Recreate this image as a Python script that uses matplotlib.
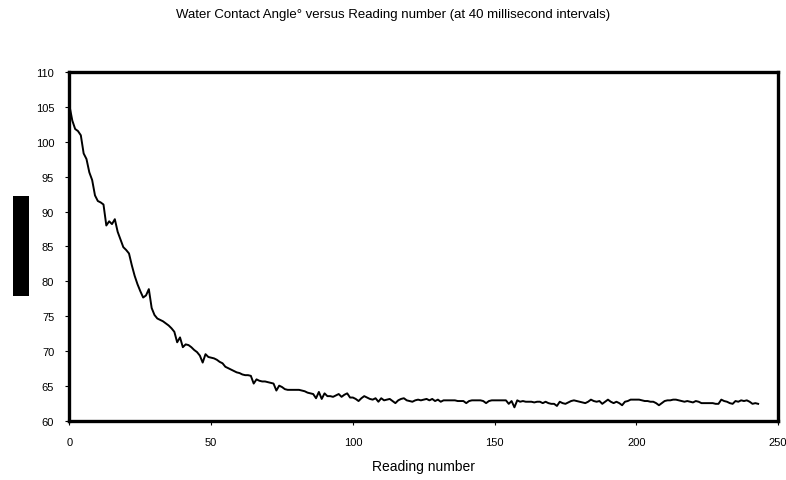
"""Water contact angle vs reading number"""
import matplotlib
matplotlib.use('Agg')
import matplotlib.pyplot as plt
import matplotlib.patches as mpatches

plt.rcParams['font.family'] = ['Liberation Sans', 'DejaVu Sans']

# contact angle readings (degrees), one per reading, 40 ms apart
angle_start = [
    105.1, 103.0, 101.8, 101.5, 100.9, 98.3, 97.5, 95.6, 94.5, 92.3,
    91.5, 91.3, 91.0, 88.0, 88.6, 88.2, 88.9, 87.1, 86.0, 84.9,
    84.5, 84.0, 82.3, 80.8, 79.6, 78.6, 77.7, 78.0, 78.9, 76.2,
    75.2, 74.7, 74.5, 74.3, 74.0, 73.7, 73.3, 72.8, 71.3, 72.0,
    70.6, 71.0, 70.9, 70.6, 70.2, 69.9, 69.4, 68.4, 69.6, 69.2,
    69.1, 69.0, 68.8, 68.5, 68.3, 67.8, 67.6, 67.4, 67.2, 67.0,
    66.9, 66.7, 66.6, 66.6, 66.5, 65.4, 66.0, 65.8, 65.7, 65.7,
    65.6, 65.5, 65.4, 64.4, 65.1, 64.9, 64.6, 64.5, 64.5, 64.5,
    64.5, 64.5, 64.4, 64.3, 64.1, 64.0, 63.9, 63.3, 64.2, 63.2,
    64.0, 63.6, 63.6, 63.5, 63.7, 63.9, 63.5, 63.8, 64.0, 63.4,
]
angle_plateau = [
    63.4, 63.2, 62.9, 63.3, 63.6, 63.4, 63.2, 63.1, 63.3, 62.8,
    63.3, 63.0, 63.1, 63.2, 62.9, 62.6, 63.0, 63.2, 63.3, 63.0,
    62.9, 62.8, 63.0, 63.1, 63.0, 63.1, 63.2, 63.0, 63.2, 62.9,
    63.1, 62.8, 63.0, 63.0, 63.0, 63.0, 63.0, 62.9, 62.9, 62.9,
    62.6, 62.9, 63.0, 63.0, 63.0, 63.0, 62.9, 62.6, 62.9, 63.0,
    63.0, 63.0, 63.0, 63.0, 63.0, 62.5, 62.9, 62.0, 63.0, 62.8,
    62.9, 62.8, 62.8, 62.8, 62.7, 62.8, 62.8, 62.6, 62.8, 62.6,
    62.5, 62.5, 62.2, 62.8, 62.6, 62.5, 62.7, 62.9, 63.0, 62.9,
    62.8, 62.7, 62.6, 62.8, 63.1, 62.9, 62.8, 62.9, 62.5, 62.8,
    63.1, 62.8, 62.6, 62.8, 62.6, 62.3, 62.8, 62.9, 63.1, 63.1,
    63.1, 63.1, 63.0, 62.9, 62.9, 62.8, 62.8, 62.6, 62.3, 62.6,
    62.9, 63.0, 63.0, 63.1, 63.1, 63.0, 62.9, 62.8, 62.9, 62.8,
    62.7, 62.9, 62.8, 62.6, 62.6, 62.6, 62.6, 62.6, 62.5, 62.5,
    63.1, 62.9, 62.8, 62.6, 62.5, 62.9, 62.8, 63.0, 62.9, 63.0,
    62.8, 62.5, 62.6, 62.5,
]
angles = angle_start + angle_plateau
readings = list(range(len(angles)))

x_ticks = [0, 50, 100, 150, 200, 250]
y_ticks = [60, 65, 70, 75, 80, 85, 90, 95, 100, 105, 110]

fig = plt.figure(figsize=(7.86, 4.81), dpi=100, facecolor='white')
ax = fig.add_axes([0.0884, 0.122, 0.9014, 0.727])

ax.plot(readings, angles, color='black', linewidth=1.4)

ax.set_xlim(0, 250)
ax.set_ylim(60, 110)
ax.set_xticks(x_ticks)
ax.set_yticks(y_ticks)
ax.tick_params(axis='both', direction='out', length=3, width=0.8,
               labelsize=8, color='black')
ax.tick_params(axis='x', pad=8)
ax.tick_params(axis='y', pad=8)

for side in ['left', 'right', 'top', 'bottom']:
    ax.spines[side].set_linewidth(2.4)
    ax.spines[side].set_color('black')

ax.set_xlabel('Reading number', fontsize=10, labelpad=9)

fig.text(0.5, 0.968, 'Water Contact Angle° versus Reading number (at 40 millisecond intervals)',
         ha='center', va='center', fontsize=9.5)

# solid black block where the y-axis title should be
fig.patches.append(mpatches.Rectangle((0.0169, 0.3832), 0.02, 0.2079,
                                      transform=fig.transFigure,
                                      facecolor='black', edgecolor='none'))

fig.savefig('out.png', dpi=100, facecolor='white')
